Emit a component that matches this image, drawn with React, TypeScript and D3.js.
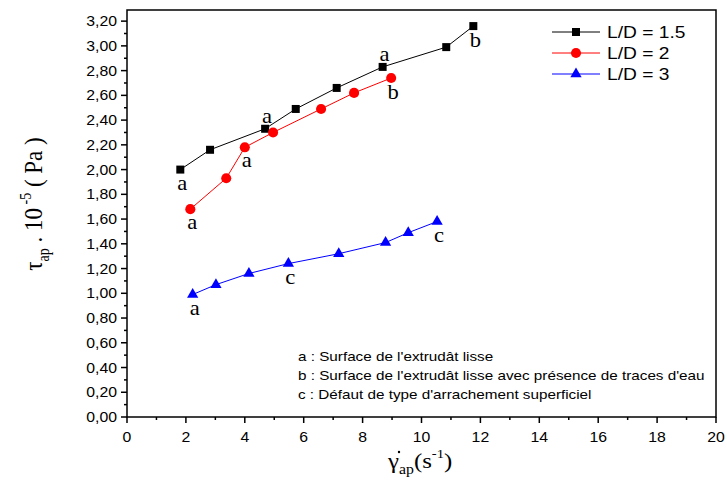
import React from 'react'
import * as d3 from 'd3'

// shear rate (s-1) and apparent stress (x 10^-5 Pa)
const gamma15 = [1.81, 2.82, 4.69, 5.73, 7.12, 8.68, 10.84, 11.76]
const tau15 = [2.0, 2.16, 2.33, 2.49, 2.66, 2.83, 2.99, 3.16]
const gamma2 = [2.15, 3.37, 4.0, 4.96, 6.59, 7.71, 8.97]
const tau2 = [1.68, 1.93, 2.18, 2.3, 2.49, 2.62, 2.74]
const gamma3 = [2.23, 3.02, 4.14, 5.48, 7.19, 8.78, 9.55, 10.53]
const tau3 = [0.99, 1.07, 1.16, 1.24, 1.32, 1.41, 1.49, 1.58]

const seriesNames = ['L/D = 1.5', 'L/D = 2', 'L/D = 3']
const seriesColors = ['#000000', '#ff0000', '#0000ff']

// letters written next to some points: series, point index, letter, side
const pointNotes = [
  { s: 0, i: 0, t: 'a', side: 'below' },
  { s: 0, i: 2, t: 'a', side: 'above' },
  { s: 0, i: 5, t: 'a', side: 'above' },
  { s: 0, i: 7, t: 'b', side: 'below' },
  { s: 1, i: 0, t: 'a', side: 'below' },
  { s: 1, i: 2, t: 'a', side: 'below' },
  { s: 1, i: 6, t: 'b', side: 'below' },
  { s: 2, i: 0, t: 'a', side: 'below' },
  { s: 2, i: 3, t: 'c', side: 'below' },
  { s: 2, i: 7, t: 'c', side: 'below' },
]

const noteLines = [
  "a : Surface de l'extrudât lisse",
  "b : Surface de l'extrudât lisse avec présence de traces d'eau",
  'c : Défaut de type d\'arrachement superficiel',
]

const W = 727
const H = 494
const SX = 1.13 // the original picture is a bit stretched sideways
const sans = 'Liberation Sans, Arial, sans-serif'
const serif = 'Liberation Serif, Times New Roman, serif'

const App = () => {
  const series = [
    gamma15.map((g, i) => ({ x: g, y: tau15[i] })),
    gamma2.map((g, i) => ({ x: g, y: tau2[i] })),
    gamma3.map((g, i) => ({ x: g, y: tau3[i] })),
  ]

  const scaleX = d3.scaleLinear().domain([0, 20]).range([127, 716])
  const scaleY = d3.scaleLinear().domain([0, 3.29]).range([417, 10])

  const lineMaker = d3
    .line<{ x: number; y: number }>()
    .x((d) => scaleX(d.x))
    .y((d) => scaleY(d.y))

  const symbols = [
    d3.symbol().type(d3.symbolSquare).size(64)(),
    d3.symbol().type(d3.symbolCircle).size(80)(),
    d3.symbol().type(d3.symbolTriangle).size(55)(),
  ]

  const xTicks = d3.range(0, 21)
  const yTicks = d3.range(0, 33).map((v) => v / 10)
  const fmt = (v: number) => d3.format('.2f')(v).replace('.', ',')

  const [x0, x1] = scaleX.range()
  const [y0, y1] = scaleY.range()

  const txt = (x: number, y: number) => `translate(${x},${y}) scale(${SX},1)`

  return (
    <svg width={W} height={H} style={{ position: 'absolute', left: 0, top: 0, background: '#fff' }}>
      {/* frame */}
      <rect x={x0} y={y1} width={x1 - x0} height={y0 - y1} fill="none" stroke="#000" strokeWidth={1.5} />

      {/* x axis ticks */}
      {xTicks.map((t) => (
        <g key={'x' + t}>
          <line x1={scaleX(t)} x2={scaleX(t)} y1={y0} y2={y0 + (t % 2 === 0 ? 6 : 3)} stroke="#000" strokeWidth={1.5} />
          {t % 2 === 0 && (
            <text transform={txt(scaleX(t), 442)} textAnchor="middle" fontFamily={sans} fontSize={14}>
              {t}
            </text>
          )}
        </g>
      ))}

      {/* y axis ticks */}
      {yTicks.map((t, i) => (
        <g key={'y' + i}>
          <line x1={x0} x2={x0 - (i % 2 === 0 ? 6 : 3)} y1={scaleY(t)} y2={scaleY(t)} stroke="#000" strokeWidth={1.5} />
          {i % 2 === 0 && (
            <text transform={txt(117, scaleY(t) + 5)} textAnchor="end" fontFamily={sans} fontSize={14}>
              {fmt(t)}
            </text>
          )}
        </g>
      ))}

      {/* series */}
      {series.map((pts, s) => (
        <g key={'s' + s}>
          <path d={lineMaker(pts) || ''} fill="none" stroke={seriesColors[s]} strokeWidth={1} />
          {pts.map((d, i) => (
            <path key={i} d={symbols[s] || ''} transform={`translate(${scaleX(d.x)},${scaleY(d.y)})`} fill={seriesColors[s]} />
          ))}
        </g>
      ))}

      {/* a / b / c letters */}
      {pointNotes.map((n, k) => {
        const d = series[n.s][n.i]
        const dy = n.side === 'above' ? -6 : n.t === 'b' ? 21 : 20
        return (
          <text key={'n' + k} transform={txt(scaleX(d.x) + 2, scaleY(d.y) + dy)} textAnchor="middle" fontFamily={serif} fontSize={20} fill="#000">
            {n.t}
          </text>
        )
      })}

      {/* legend */}
      {seriesNames.map((name, s) => {
        const ly = 32 + s * 21
        return (
          <g key={'l' + s}>
            <line x1={552} x2={600} y1={ly} y2={ly} stroke={seriesColors[s]} strokeWidth={1} />
            <path d={symbols[s] || ''} transform={`translate(576,${ly})`} fill={seriesColors[s]} />
            <text transform={txt(607, ly + 6)} fontFamily={sans} fontSize={17}>
              {name}
            </text>
          </g>
        )
      })}

      {/* notes */}
      {noteLines.map((l, i) => (
        <text key={'t' + i} transform={txt(298, 361 + i * 19)} fontFamily={sans} fontSize={13.5}>
          {l}
        </text>
      ))}

      {/* y title */}
      <text transform={`translate(42,204) scale(${SX},1) rotate(-90)`} textAnchor="middle" fontFamily={serif} fontSize={23}>
        <tspan>τ</tspan>
        <tspan fontSize={14} dy={6}>ap</tspan>
        <tspan dy={-6}> . 10</tspan>
        <tspan fontSize={14} dy={-10}> -5</tspan>
        <tspan dy={10}> ( Pa )</tspan>
      </text>

      {/* x title */}
      <text transform={txt(388, 468)} fontFamily={serif} fontSize={22}>
        <tspan>γ</tspan>
        <tspan fontSize={14} dy={6}>ap</tspan>
        <tspan dy={-6}>(s</tspan>
        <tspan fontSize={13} dy={-10}>-1</tspan>
        <tspan dy={10}>)</tspan>
      </text>
      <circle cx={399} cy={452} r={1.2} fill="#000" />
    </svg>
  )
}

export default App
